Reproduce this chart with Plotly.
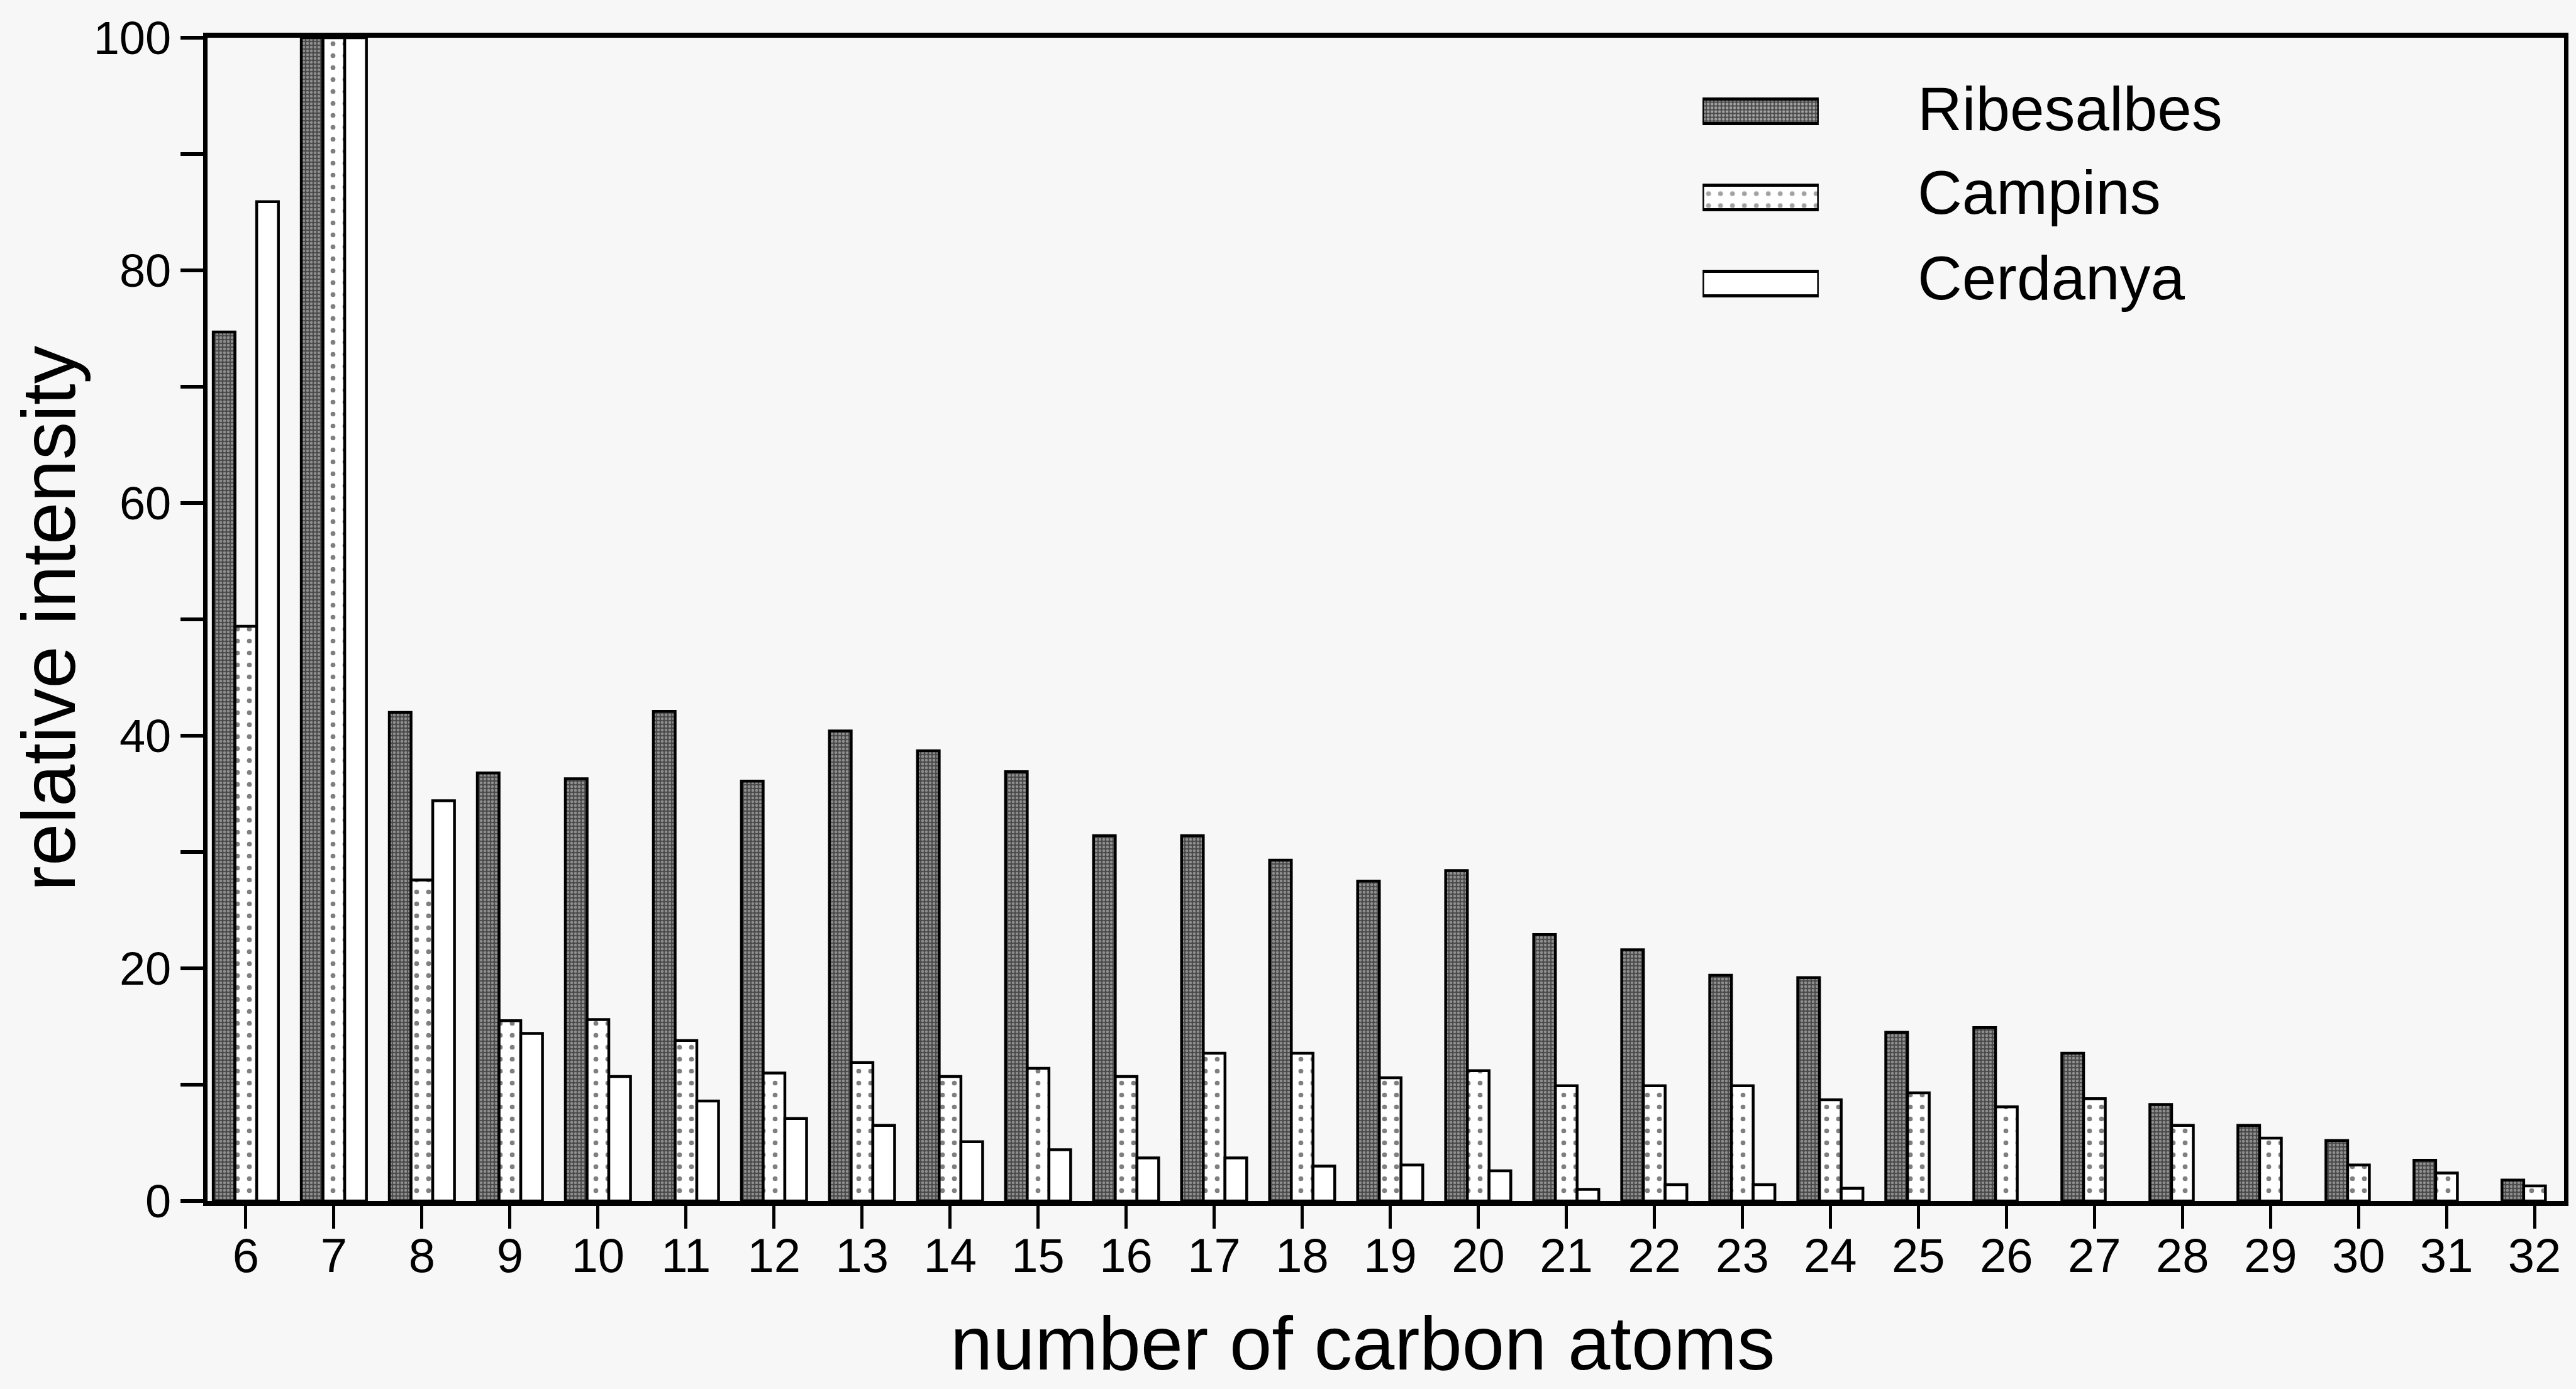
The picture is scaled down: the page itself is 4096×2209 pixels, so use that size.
import plotly.graph_objects as go

# ---------------- data ----------------
carbon_atoms = list(range(6, 33))
tick_labels = [str(c) for c in carbon_atoms]
series_names = ["Ribesalbes", "Campins", "Cerdanya"]

ribesalbes = [74.7, 100, 42.0, 36.8, 36.3, 42.1, 36.1, 40.4, 38.7, 36.9, 31.4, 31.4,
              29.3, 27.5, 28.4, 22.9, 21.6, 19.4, 19.2, 14.5, 14.9, 12.7, 8.3, 6.5,
              5.2, 3.5, 1.8]
campins = [49.4, 100, 27.6, 15.5, 15.6, 13.8, 11.0, 11.9, 10.7, 11.4, 10.7, 12.7,
           12.7, 10.6, 11.2, 9.9, 9.9, 9.9, 8.7, 9.3, 8.1, 8.8, 6.5, 5.4,
           3.1, 2.4, 1.3]
cerdanya = [85.9, 100, 34.4, 14.4, 10.7, 8.6, 7.1, 6.5, 5.1, 4.4, 3.7, 3.7,
            3.0, 3.1, 2.6, 1.0, 1.4, 1.4, 1.1, None, None, None, None, None,
            None, None, None]

y_tick_values = list(range(0, 101, 10))
y_tick_labels = [str(v) if v % 20 == 0 else "" for v in y_tick_values]

# ---------------- layout geometry ----------------
W, H = 4096, 2209
L, R, T, B = 330, 13, 60, 299
PW, PH = W - L - R, H - T - B


def px_x(px):
    return (px - L) / PW


def px_y(py):
    return (H - B - py) / PH


FONT = "Liberation Sans, Arial, Helvetica, sans-serif"
BG = "#f7f7f7"

styles = [
    dict(color="#4a4a4a", pattern=dict(shape=".", bgcolor="#4a4a4a", fgcolor="#d4d4d4",
                                       size=6, solidity=0.45)),
    dict(color="white", pattern=dict(shape=".", bgcolor="white", fgcolor="black",
                                     size=19, solidity=0.13)),
    dict(color="white", pattern=dict(shape="", bgcolor="white", fgcolor="black")),
]

fig = go.Figure()
for name, vals, st in zip(series_names, [ribesalbes, campins, cerdanya], styles):
    fig.add_trace(go.Bar(
        x=carbon_atoms, y=vals, name=name, showlegend=False,
        marker=dict(color=st["color"], pattern=st["pattern"],
                    line=dict(color="black", width=4.5)),
    ))

# legend swatches (drawn as bars on a hidden helper axis)
fig.add_trace(go.Bar(
    x=[1, 1, 1], y=[0, 1, 2], orientation="h", width=0.285,
    xaxis="x2", yaxis="y2", showlegend=False, hoverinfo="skip",
    marker=dict(
        color=[s["color"] for s in styles],
        pattern=dict(
            shape=[s["pattern"]["shape"] for s in styles],
            bgcolor=[s["pattern"]["bgcolor"] for s in styles],
            fgcolor=[s["pattern"]["fgcolor"] for s in styles],
            size=[6, 19, 8],
            solidity=[0.45, 0.13, 0.3],
        ),
        line=dict(color="black", width=5),
    ),
))

annotations = []
legend_text_y = [173, 306, 442]
for name, ty in zip(series_names, legend_text_y):
    annotations.append(dict(
        text=name, xref="paper", yref="paper", x=px_x(3051), y=px_y(ty),
        xanchor="left", yanchor="middle", showarrow=False,
        font=dict(family=FONT, size=98, color="black"),
    ))

annotations.append(dict(
    text="number of carbon atoms", xref="paper", yref="paper",
    x=px_x(2170), y=px_y(2136), xanchor="center", yanchor="middle",
    showarrow=False, font=dict(family=FONT, size=121, color="black"),
))
annotations.append(dict(
    text="relative intensity", xref="paper", yref="paper",
    x=px_x(77), y=px_y(983), xanchor="center", yanchor="middle",
    textangle=-90, showarrow=False, font=dict(family=FONT, size=121, color="black"),
))

fig.update_layout(
    width=W, height=H,
    margin=dict(l=L, r=R, t=T, b=B, pad=0),
    paper_bgcolor=BG, plot_bgcolor=BG,
    barmode="group", bargap=0.26, bargroupgap=0,
    font=dict(family=FONT, color="black"),
    showlegend=False,
    annotations=annotations,
    xaxis=dict(
        range=[5.565, 32.335], tickvals=carbon_atoms, ticktext=tick_labels,
        showgrid=False, zeroline=False, showline=True, linewidth=8,
        linecolor="black", mirror=True, ticks="outside", ticklen=36,
        tickwidth=5, tickcolor="black", ticklabelstandoff=-22,
        tickfont=dict(family=FONT, size=76, color="black"),
    ),
    yaxis=dict(
        range=[0, 100], tickvals=y_tick_values, ticktext=y_tick_labels,
        showgrid=False, zeroline=False, showline=True, linewidth=7,
        linecolor="black", mirror=True, ticks="outside", ticklen=36,
        tickwidth=6, tickcolor="black",
        tickfont=dict(family=FONT, size=74, color="black"),
    ),
    xaxis2=dict(domain=[px_x(2711), px_x(2896)], anchor="y2", range=[0, 1],
                visible=False, fixedrange=True),
    yaxis2=dict(domain=[px_y(519.5), px_y(108.5)], anchor="x2", range=[2.5, -0.5],
                visible=False, fixedrange=True),
)

fig.write_html("out.html")
